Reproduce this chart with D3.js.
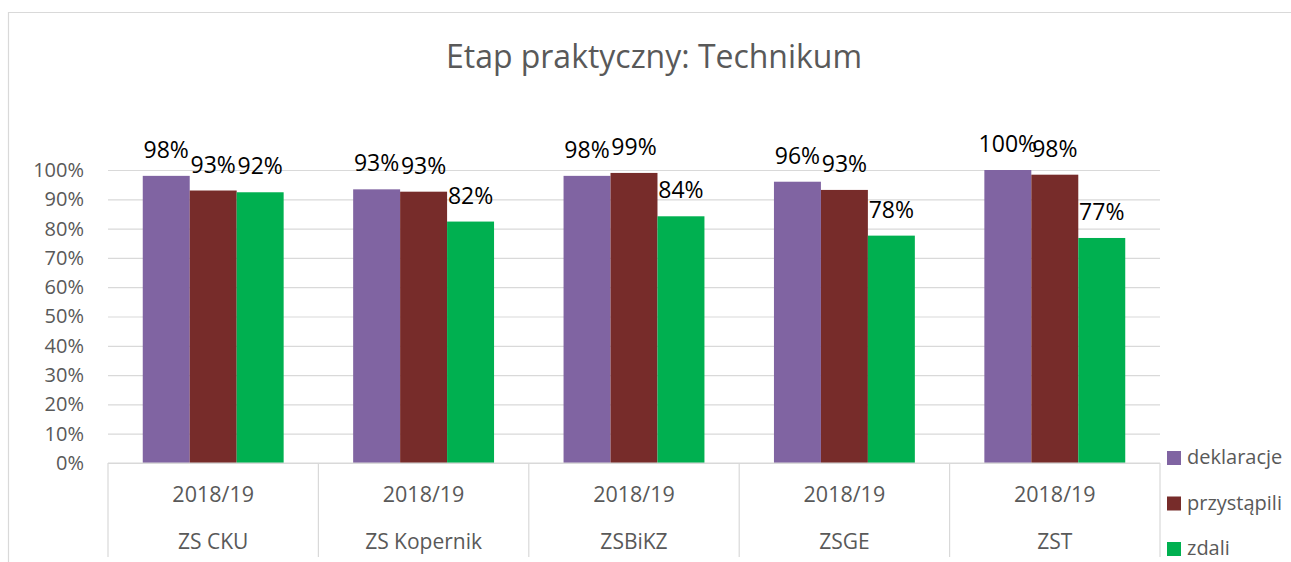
<!DOCTYPE html>
<html>
<head>
<meta charset="utf-8">
<script src="https://cdn.jsdelivr.net/npm/d3@7"></script>
<style>
  body { margin: 0; background: #fff; }
  svg { display: block; font-family: "Open Sans", sans-serif; }
</style>
</head>
<body>
<svg id="chart" width="1291" height="562"></svg>
<script>
// dane wykresu
const schools = ["ZS CKU", "ZS Kopernik", "ZSBiKZ", "ZSGE", "ZST"];
const years = ["2018/19", "2018/19", "2018/19", "2018/19", "2018/19"];
const seriesNames = ["deklaracje", "przystąpili", "zdali"];
const deklaracje = [0.98, 0.934, 0.98, 0.96, 1.0];
const przystapili = [0.93, 0.926, 0.99, 0.932, 0.984];
const zdali = [0.924, 0.824, 0.842, 0.776, 0.768];
const colors = ["#8064A2", "#772C2A", "#00B050"];
const yTicks = [0, 0.1, 0.2, 0.3, 0.4, 0.5, 0.6, 0.7, 0.8, 0.9, 1.0];

const seriesValues = [deklaracje, przystapili, zdali];

const svg = d3.select("#chart");
const plotL = 108, plotR = 1160, plotT = 170, plotB = 463;

// ramka wykresu
svg.append("path")
  .attr("d", `M8.5,562 V12.5 H1291`)
  .attr("fill", "none")
  .attr("stroke", "#d9d9d9")
  .attr("stroke-width", 1.2);

// tytul
svg.append("text")
  .attr("x", 654)
  .attr("y", 68)
  .attr("text-anchor", "middle")
  .attr("fill", "#595959")
  .attr("font-size", 32)
  .attr("textLength", 416)
  .attr("lengthAdjust", "spacingAndGlyphs")
  .text("Etap praktyczny: Technikum");

const x0 = d3.scaleBand().domain(d3.range(schools.length)).range([plotL, plotR]);
const x1 = d3.scaleBand().domain(d3.range(seriesNames.length))
  .range([0, x0.bandwidth()]).paddingInner(0).paddingOuter(0.74);
const y = d3.scaleLinear().domain([0, 1]).range([plotB, plotT]);

// siatka i os Y
const yAxis = d3.axisLeft(y).tickValues(yTicks).tickFormat(d3.format(".0%"))
  .tickSize(-(plotR - plotL)).tickPadding(24);
const gy = svg.append("g").attr("transform", `translate(${plotL},0)`).call(yAxis);
gy.select(".domain").remove();
gy.selectAll(".tick line").attr("stroke", "#d9d9d9").attr("stroke-width", 1.2);
gy.selectAll(".tick text").attr("fill", "#595959").attr("font-size", 20)
  .attr("font-family", "Open Sans, sans-serif");

// slupki
seriesNames.forEach((name, s) => {
  const g = svg.append("g");
  g.selectAll("rect").data(seriesValues[s]).join("rect")
    .attr("x", (d, i) => x0(i) + x1(s))
    .attr("y", d => y(d))
    .attr("width", x1.bandwidth())
    .attr("height", d => y(0) - y(d))
    .attr("fill", colors[s]);
  g.selectAll("text").data(seriesValues[s]).join("text")
    .attr("x", (d, i) => x0(i) + x1(s) + x1.bandwidth() / 2)
    .attr("y", d => y(d) - 18)
    .attr("text-anchor", "middle")
    .attr("font-size", 23)
    .attr("fill", "#000")
    .text(d => d3.format(".0%")(d));
});

// os X z dwoma poziomami etykiet
svg.append("line")
  .attr("x1", plotL).attr("x2", plotR).attr("y1", plotB).attr("y2", plotB)
  .attr("stroke", "#d9d9d9").attr("stroke-width", 1.2);
const bounds = d3.range(schools.length + 1).map(i => plotL + i * x0.step());
svg.selectAll(".sep").data(bounds).join("line")
  .attr("class", "sep")
  .attr("x1", d => d).attr("x2", d => d)
  .attr("y1", plotB).attr("y2", 557)
  .attr("stroke", "#d9d9d9").attr("stroke-width", 1.2);
svg.selectAll(".yr").data(years).join("text")
  .attr("class", "yr")
  .attr("x", (d, i) => x0(i) + x0.bandwidth() / 2)
  .attr("y", 502)
  .attr("text-anchor", "middle")
  .attr("font-size", 21.5)
  .attr("fill", "#595959")
  .text(d => d);
svg.selectAll(".sc").data(schools).join("text")
  .attr("class", "sc")
  .attr("x", (d, i) => x0(i) + x0.bandwidth() / 2)
  .attr("y", 549)
  .attr("text-anchor", "middle")
  .attr("font-size", 21)
  .attr("fill", "#595959")
  .text(d => d);

// legenda
const lg = svg.append("g").selectAll("g").data(seriesNames).join("g")
  .attr("transform", (d, i) => `translate(1167,${451 + i * 45.5})`);
lg.append("rect").attr("width", 14).attr("height", 14).attr("fill", (d, i) => colors[i]);
lg.append("text").attr("x", 20).attr("y", 13)
  .attr("font-size", 20).attr("fill", "#595959").text(d => d);
</script>
</body>
</html>
